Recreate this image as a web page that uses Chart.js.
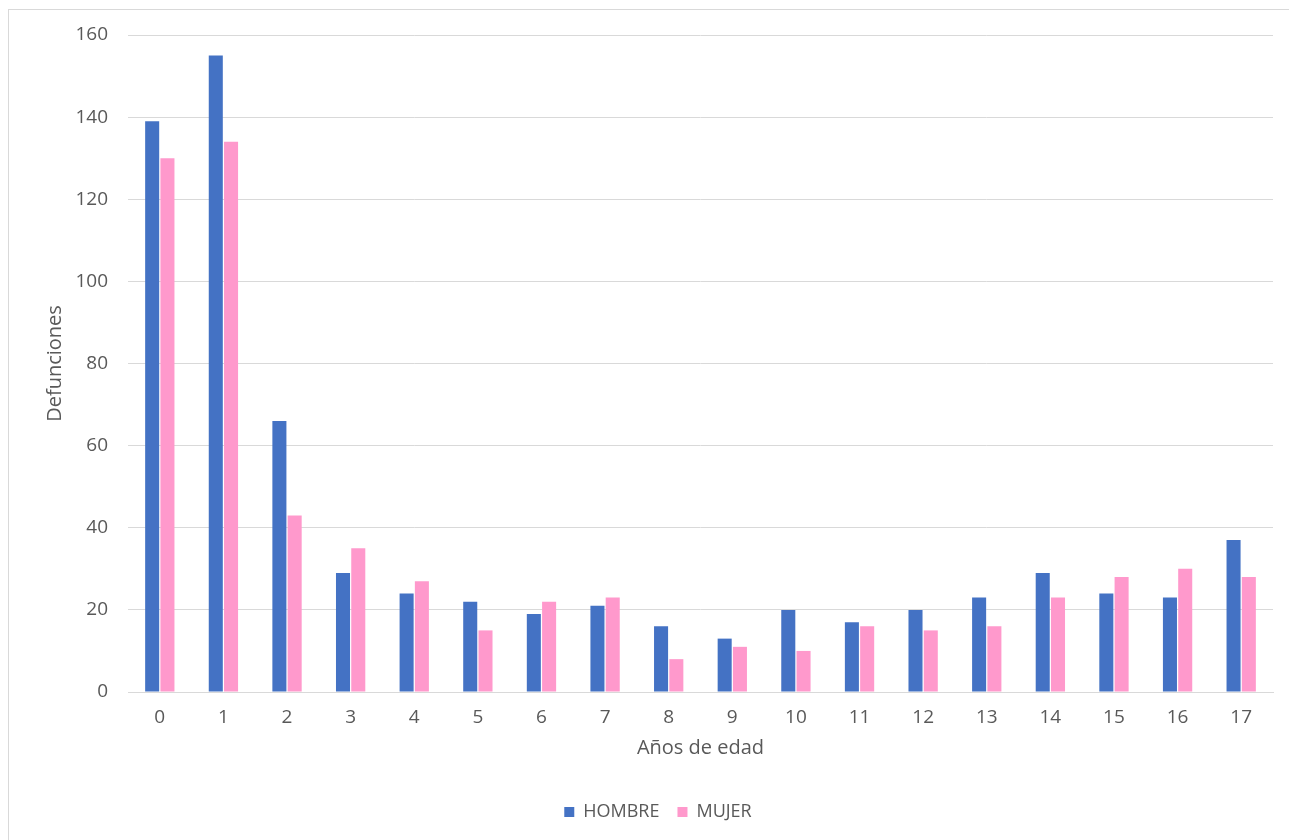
<!DOCTYPE html>
<html>
<head>
<meta charset="utf-8">
<script src="https://cdn.jsdelivr.net/npm/chart.js@4"></script>
<style>
    html, body { margin: 0; padding: 0; background: #fff; overflow: hidden; }
    #chartBox {
        position: absolute;
        left: 8px;
        top: 9px;
        width: 1300px;
        height: 840px;
        border: 1px solid #d9d9d9;
    }
</style>
</head>
<body>
<div id="chartBox"><canvas id="deathsChart"></canvas></div>
<script>
const ages = ['0', '1', '2', '3', '4', '5', '6', '7', '8', '9', '10', '11', '12', '13', '14', '15', '16', '17'];
const hombre = [139, 155, 66, 29, 24, 22, 19, 21, 16, 13, 20, 17, 20, 23, 29, 24, 23, 37];
const mujer = [130, 134, 43, 35, 27, 15, 22, 23, 8, 11, 10, 16, 15, 16, 23, 28, 30, 28];
const yMin = 0;
const yMax = 160;
const yStep = 20;

const textColor = '#595959';
const gridColor = '#d9d9d9';
const fontFamily = '"Open Sans", Lato, sans-serif';

const ctx = document.getElementById('deathsChart').getContext('2d');

new Chart(ctx, {
    type: 'bar',
    data: {
        labels: ages,
        datasets: [
            {
                label: 'HOMBRE',
                data: hombre,
                backgroundColor: '#4472C4',
                borderWidth: 0
            },
            {
                label: 'MUJER',
                data: mujer,
                backgroundColor: '#FF99CC',
                borderWidth: 0
            }
        ]
    },
    options: {
        responsive: true,
        maintainAspectRatio: false,
        animation: false,
        layout: {
            padding: { top: 25, right: 36, left: 34, bottom: 19 }
        },
        datasets: {
            bar: {
                categoryPercentage: 0.48,
                barPercentage: 0.92
            }
        },
        plugins: {
            tooltip: { enabled: false },
            legend: {
                position: 'bottom',
                labels: {
                    color: textColor,
                    font: { family: fontFamily, size: 18 },
                    boxWidth: 10,
                    boxHeight: 10,
                    padding: 18
                }
            }
        },
        scales: {
            x: {
                grid: { display: false, drawTicks: false },
                border: { color: gridColor },
                ticks: {
                    color: textColor,
                    font: { family: fontFamily, size: 19 },
                    padding: 14,
                    maxRotation: 0
                },
                title: {
                    display: true,
                    text: 'Años de edad',
                    color: textColor,
                    font: { family: fontFamily, size: 20 },
                    padding: { top: 0, bottom: 25 }
                },
                afterFit: function(scale) {
                    scale.height = 93;
                }
            },
            y: {
                min: yMin,
                max: yMax,
                grid: { color: gridColor, drawTicks: false },
                border: { display: false },
                ticks: {
                    stepSize: yStep,
                    color: textColor,
                    font: { family: fontFamily, size: 19 },
                    padding: 20
                },
                title: {
                    display: true,
                    text: 'Defunciones',
                    color: textColor,
                    font: { family: fontFamily, size: 20 },
                    padding: { top: 0, bottom: 0 }
                },
                afterFit: function(scale) {
                    scale.width = 85;
                    scale.paddingTop = 0;
                    scale.paddingBottom = 0;
                }
            }
        }
    }
});
</script>
</body>
</html>
